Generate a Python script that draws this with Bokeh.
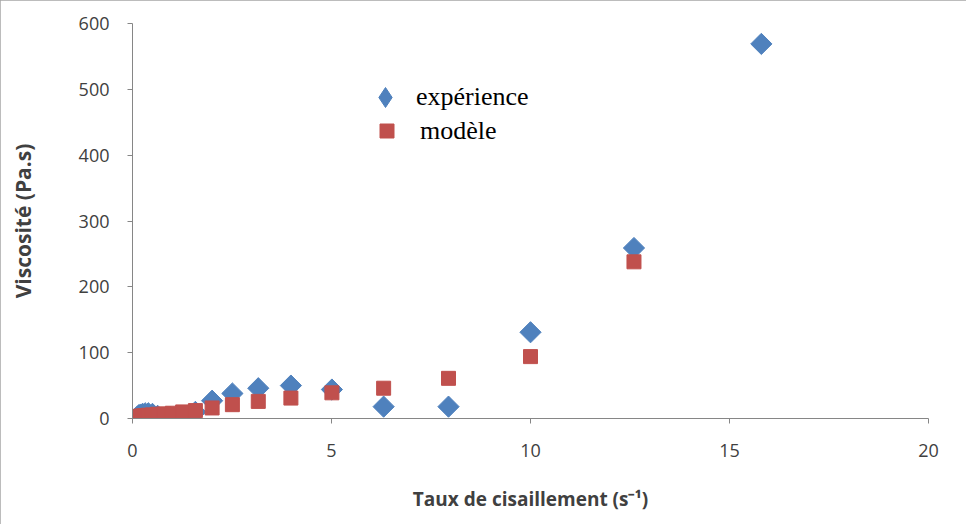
import math
from bokeh.plotting import figure
from bokeh.models import Range1d, Legend, LegendItem, FixedTicker
from bokeh.embed import file_html
from bokeh.resources import INLINE

# Shear rates (s^-1), log-spaced
shear = [0.1, 0.126, 0.158, 0.2, 0.251, 0.316, 0.398, 0.501, 0.631, 0.794,
         1.0, 1.26, 1.58, 2.0, 2.51, 3.16, 3.98, 5.01, 6.31, 7.94,
         10.0, 12.6, 15.8]
# Measured viscosity (Pa.s)
experience = [1, 3, 5, 6, 7, 8, 8, 7, 4, 1,
              0, 2, 10, 27, 38, 46, 50, 44, 18, 18,
              131, 259, 569]
# Model shear rates and viscosity (Pa.s)
shear_model = [0.1, 0.126, 0.158, 0.2, 0.251, 0.316, 0.398, 0.501, 0.631, 0.794,
               1.0, 1.26, 1.58, 2.0, 2.51, 3.16, 3.98, 5.01, 6.31, 7.94,
               10.0, 12.6]
modele = [2, 2.5, 3, 3.5, 4, 4.5, 5, 5.5, 6.5, 7,
          8, 10, 12, 16, 21, 26, 31, 39, 46, 61,
          94, 238]

x_ticks = [0, 5, 10, 15, 20]
y_ticks = [0, 100, 200, 300, 400, 500, 600]

BLUE = "#4F81BD"
RED = "#C0504D"
AXIS = "#868686"
TXT = "#404040"
FONT = "Open Sans"

p = figure(width=966, height=524, output_backend="svg", toolbar_location=None,
           x_range=Range1d(0, 20), y_range=Range1d(0, 600),
           min_border_left=132, min_border_right=38, min_border_top=23,
           min_border_bottom=106)
p.styles = {"outline": "1px solid #a6a6a6", "outline-offset": "-1px"}
p.outline_line_color = None
p.xgrid.visible = False
p.ygrid.visible = False

# legend key for the diamonds (Bokeh does not rotate legend glyphs);
# drawn tiny underneath the real markers
r_exp_key = p.scatter(shear, experience, marker="diamond", size=1,
                      fill_color=BLUE, line_color=BLUE)
r_exp = p.scatter(shear, experience, marker="square", size=15, angle=math.pi / 4,
                  fill_color=BLUE, line_color=BLUE)
r_mod = p.scatter(shear_model, modele, marker="square", size=14,
                  fill_color=RED, line_color=RED)

for ax in (p.xaxis[0], p.yaxis[0]):
    ax.axis_line_color = AXIS
    ax.major_tick_line_color = AXIS
    ax.major_tick_in = 0
    ax.major_tick_out = 5
    ax.minor_tick_line_color = None
    ax.major_label_text_font = FONT
    ax.major_label_text_font_size = "18px"
    ax.major_label_text_color = TXT
    ax.axis_label_text_font = FONT
    ax.axis_label_text_font_style = "bold"
    ax.axis_label_text_color = TXT

p.xaxis.ticker = FixedTicker(ticks=x_ticks)
p.yaxis.ticker = FixedTicker(ticks=y_ticks)
p.xaxis.axis_label = "Taux de cisaillement (s⁻¹)"
p.yaxis.axis_label = "Viscosité (Pa.s)"
p.xaxis.axis_label_text_font_size = "19px"
p.yaxis.axis_label_text_font_size = "21px"
p.xaxis.major_label_standoff = 20
p.yaxis.major_label_standoff = 18
p.xaxis.axis_label_standoff = 26
p.yaxis.axis_label_standoff = 39

common = dict(padding=0, margin=0, border_line_color=None, background_fill_alpha=0,
              label_text_font="Liberation Serif", label_text_font_size="26px",
              label_text_color="#000000")
leg1 = Legend(items=[LegendItem(label="expérience", renderers=[r_exp_key])],
              location=(228, 296), glyph_width=50, glyph_height=50,
              label_standoff=6, **common)
leg2 = Legend(items=[LegendItem(label="modèle", renderers=[r_mod])],
              location=(237, 270), glyph_width=35, glyph_height=35,
              label_standoff=16, **common)
p.add_layout(leg1, "center")
p.add_layout(leg2, "center")

open("out.html", "w").write(file_html(p, INLINE))
